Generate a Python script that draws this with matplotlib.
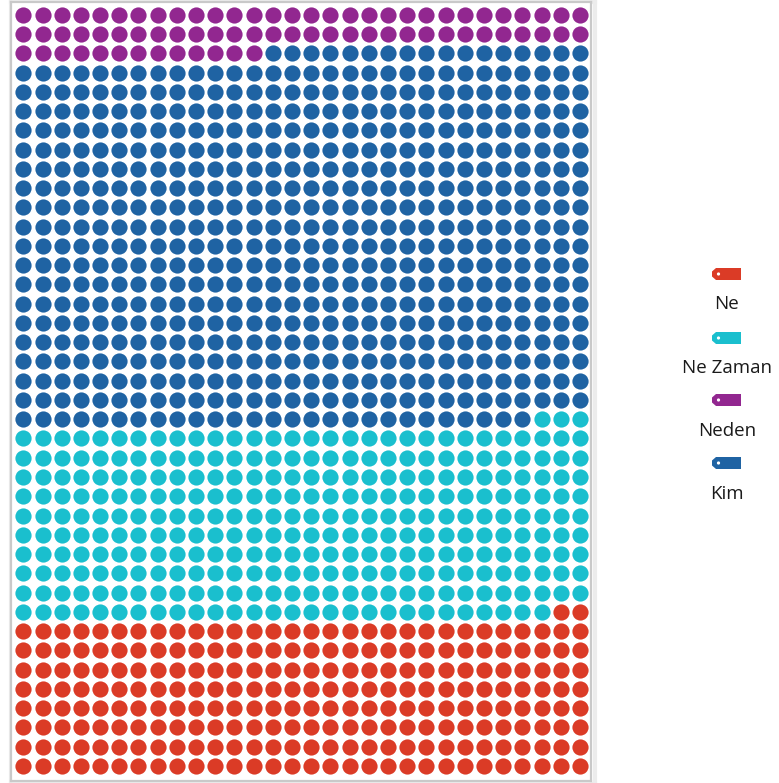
import numpy as np
import matplotlib
matplotlib.use("Agg")
from matplotlib import pyplot as plt
from matplotlib.patches import Polygon, Circle

# waffle data: 30 x 40 grid, filled from the bottom row, right to left
categories = ["Ne", "Ne Zaman", "Kim", "Neden"]
counts = [242, 301, 584, 73]
colors = ["#DB3B26", "#1ABFCE", "#1F63A3", "#922790"]

legend_order = ["Ne", "Ne Zaman", "Neden", "Kim"]

n_cols = 30
n_rows = 40

W, H = 779, 783
fig = plt.figure(figsize=(W / 100, H / 100), dpi=100)


def px_axes(x0, y0, x1, y1):
    # axes from pixel box (top-left origin)
    return fig.add_axes([x0 / W, 1 - y1 / H, (x1 - x0) / W, (y1 - y0) / H])


# outer shadow of the frame
shadow = px_axes(11, 2, 595, 784)
shadow.set_xticks([]); shadow.set_yticks([])
for s in shadow.spines.values():
    s.set_color("#ececec"); s.set_linewidth(3)
shadow.patch.set_alpha(0)

ax = px_axes(11, 2, 591, 781)

# pixel geometry of the dots
x0_px, dx = 23.3, 19.2
y0_px, dy = 15.0, 19.25
ax.set_xlim(-(x0_px - 11) / dx, (591 - x0_px) / dx)
ax.set_ylim((781 - y0_px) / dy, -(y0_px - 2) / dy)

cells = []
for r in range(n_rows - 1, -1, -1):
    for c in range(n_cols - 1, -1, -1):
        cells.append((c, r))

idx = 0
for cat, n, col in zip(categories, counts, colors):
    pts = np.array(cells[idx:idx + n])
    idx += n
    ax.scatter(pts[:, 0], pts[:, 1], s=(16.2 * 0.72) ** 2, color=col,
               linewidths=0, label=cat)

ax.set_xticks([]); ax.set_yticks([])
for s in ax.spines.values():
    s.set_color("#c9c9c9"); s.set_linewidth(1.6)

# legend drawn as tag icons with label below
lg = fig.add_axes([0, 0, 1, 1])
lg.set_xlim(0, W); lg.set_ylim(H, 0)
lg.axis("off")
lg.patch.set_alpha(0)

tag_y = [274, 338, 400, 463]
text_y = [304, 368, 431, 494]
cx = 727
for name, ty, ly in zip(legend_order, tag_y, text_y):
    col = colors[categories.index(name)]
    l, r, h = cx - 15, cx + 14, 6
    poly = [(l + 4, ty - h), (r, ty - h), (r, ty + h), (l + 4, ty + h),
            (l, ty + h - 3.5), (l, ty - h + 3.5)]
    lg.add_patch(Polygon(poly, closed=True, color=col, lw=0))
    lg.add_patch(Circle((l + 6.5, ty), 1.6, color="white", lw=0))
    lg.text(cx, ly, name, ha="center", va="center", fontsize=13.5,
            family=["Open Sans", "DejaVu Sans"], color="#1a1a1a")

fig.savefig("out.png", dpi=100)
